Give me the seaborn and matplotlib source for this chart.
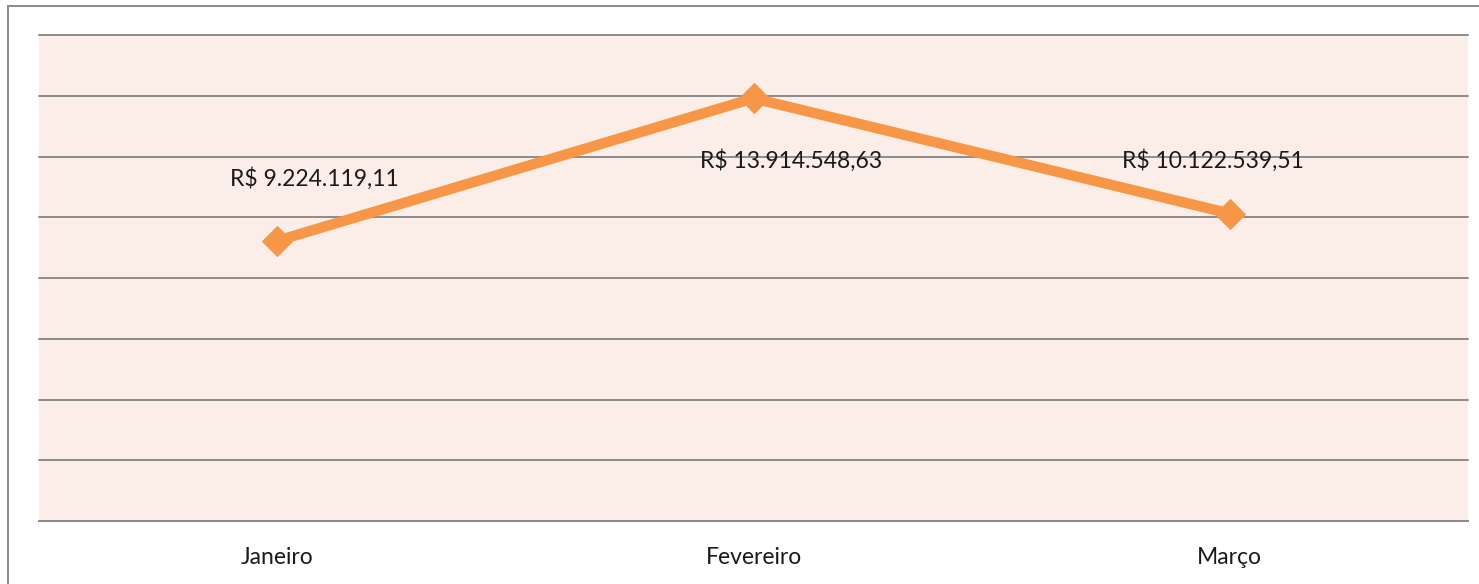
import matplotlib
matplotlib.use("Agg")
import matplotlib.pyplot as plt
import matplotlib.patches as patches
import pandas as pd
import seaborn as sns

meses = ["Janeiro", "Fevereiro", "Março"]
valores = [9224119.11, 13914548.63, 10122539.51]
rotulos = ["R$ 9.224.119,11", "R$ 13.914.548,63", "R$ 10.122.539,51"]
# label offsets (points) relative to each marker
offsets = [(27, 45), (27, -45), (-12, 38)]

sns.set_theme(style="white")
plt.rcParams["font.family"] = ["Lato", "DejaVu Sans"]

W, H = 1479, 584
fig = plt.figure(figsize=(W / 100, H / 100), dpi=100)
ax = fig.add_axes([39 / W, 1 - 521 / H, (1468 - 39) / W, (521 - 35) / H])
ax.set_facecolor("#FBEEE9")

df = pd.DataFrame({"mes": meses, "valor": valores})
sns.lineplot(data=df, x="mes", y="valor", ax=ax, color="#F79646", linewidth=7.5,
             marker="D", markersize=15, markeredgecolor="#F79646", sort=False)

for i, (v, t) in enumerate(zip(valores, rotulos)):
    ax.annotate(t, (i, v), xytext=offsets[i], textcoords="offset points",
                ha="center", va="center", fontsize=16.5, color="#1a1a1a")

ax.set_xlim(-0.5, 2.5)
ax.set_ylim(0, 16000000)
ax.set_yticks(range(0, 16000001, 2000000))
ax.yaxis.grid(True, color="#8C8C8C", linewidth=1.4)
for gl in ax.get_ygridlines():
    gl.set_clip_on(False)
ax.set_axisbelow(True)
ax.set_yticklabels([])
ax.tick_params(axis="y", length=0)
ax.tick_params(axis="x", length=0, labelsize=16.5, pad=18.5, colors="#1a1a1a")
ax.set_xlabel("")
ax.set_ylabel("")
for s in ["left", "right", "top"]:
    ax.spines[s].set_visible(False)
ax.spines["bottom"].set_color("#8C8C8C")
ax.spines["bottom"].set_linewidth(1.4)

fig.patches.append(patches.Rectangle((8 / W, -0.1), 1.2, 1 - 6 / H + 0.1,
                                     transform=fig.transFigure, fill=False,
                                     edgecolor="#8C8C8C", linewidth=1.5))

fig.savefig("out.png", dpi=100)
